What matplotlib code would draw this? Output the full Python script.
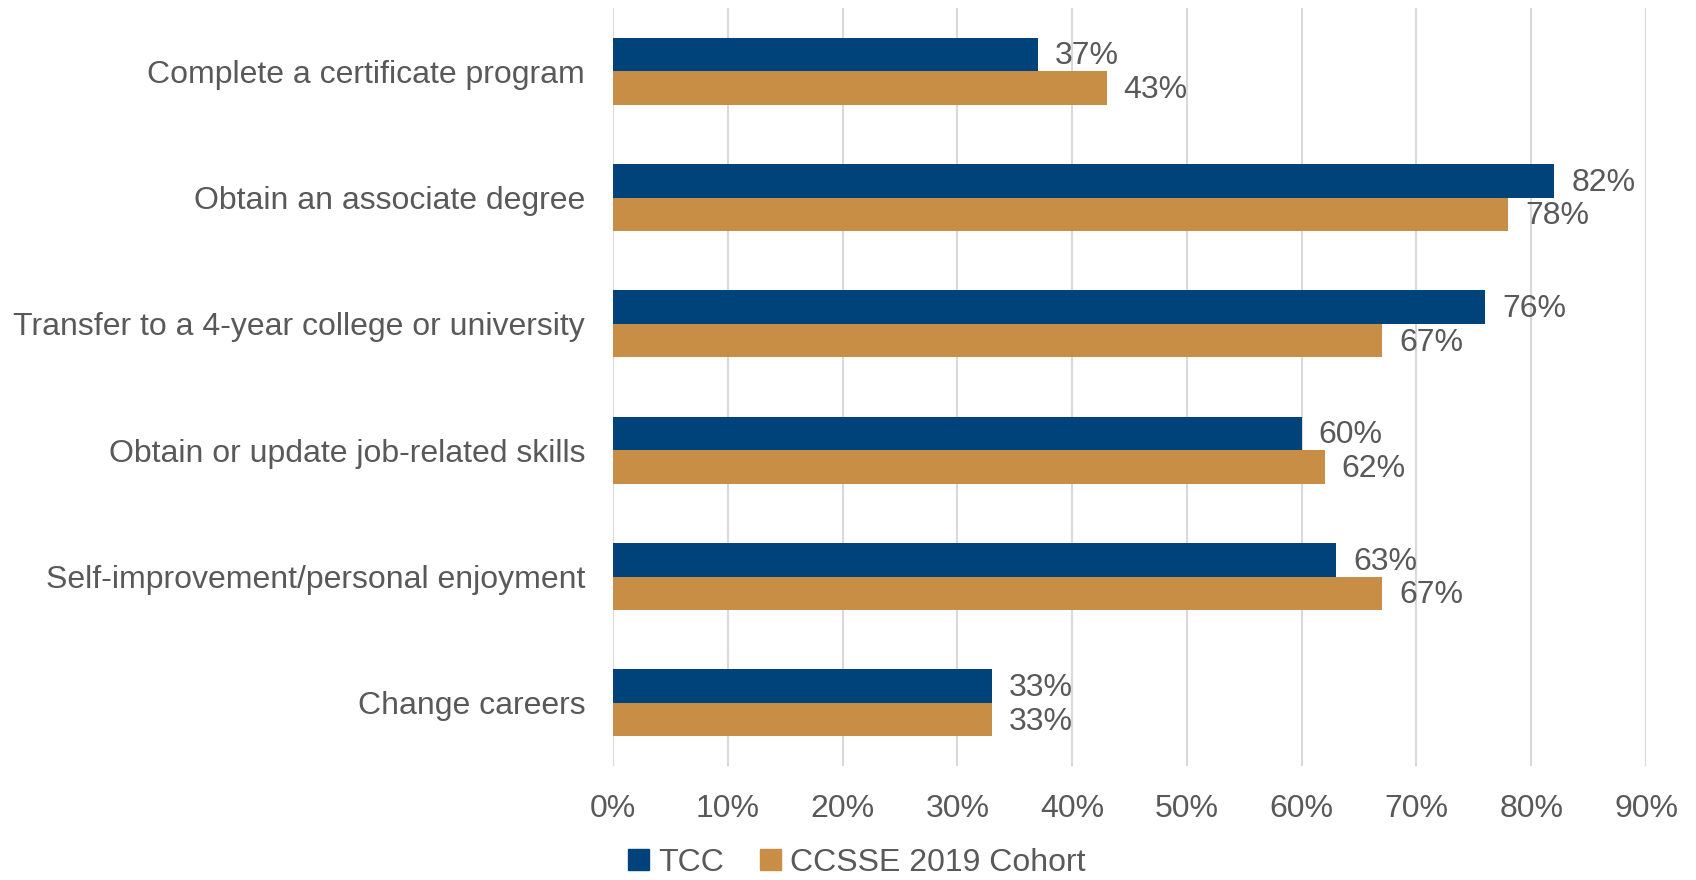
import matplotlib
matplotlib.use("Agg")
import matplotlib.pyplot as plt
import numpy as np
from matplotlib.patches import Patch

categories = [
    "Complete a certificate program",
    "Obtain an associate degree",
    "Transfer to a 4-year college or university",
    "Obtain or update job-related skills",
    "Self-improvement/personal enjoyment",
    "Change careers",
]
tcc = [37, 82, 76, 60, 63, 33]
ccsse = [43, 78, 67, 62, 67, 33]
series_names = ["TCC", "CCSSE 2019 Cohort"]
xticks = [0, 10, 20, 30, 40, 50, 60, 70, 80, 90]

navy = "#00427A"
gold = "#C88E45"
text_c = "#595959"
grid_c = "#D9D9D9"

plt.rcParams["font.family"] = ["Liberation Sans", "DejaVu Sans"]

W, H = 1696, 880
fs = 23
fig = plt.figure(figsize=(W / 100, H / 100), dpi=100)
left, right = 613, 1646
top, bottom = 8, 766
ax = fig.add_axes([left / W, 1 - bottom / H, (right - left) / W, (bottom - top) / H])

n = len(categories)
y = np.arange(n)
bh = 0.265
ax.barh(y - bh / 2, tcc, height=bh, color=navy, zorder=3)
ax.barh(y + bh / 2, ccsse, height=bh, color=gold, zorder=3)

for i in range(n):
    ax.annotate(f"{tcc[i]}%", (tcc[i], y[i] - bh / 2), xytext=(17, -2), textcoords="offset pixels",
                va="center", ha="left", fontsize=fs, color=text_c)
    ax.annotate(f"{ccsse[i]}%", (ccsse[i], y[i] + bh / 2), xytext=(17, -2), textcoords="offset pixels",
                va="center", ha="left", fontsize=fs, color=text_c)

ax.set_ylim(n - 0.5, -0.5)
ax.set_xlim(0, 90)
ax.set_yticks(y)
ax.set_yticklabels(categories, fontsize=fs, color=text_c)
ax.set_xticks(xticks)
ax.set_xticklabels([f"{v}%" for v in xticks], fontsize=fs, color=text_c)
ax.tick_params(axis="y", length=0, pad=20)
ax.tick_params(axis="x", length=0, pad=20)
ax.grid(axis="x", color=grid_c, linewidth=1.5, zorder=0)
for s in ax.spines.values():
    s.set_visible(False)

handles = [Patch(color=navy), Patch(color=gold)]
fig.legend(handles, series_names, loc="center", bbox_to_anchor=(857 / W, 1 - 863 / H), ncol=2,
           frameon=False, fontsize=fs, labelcolor=text_c, handlelength=0.65, handleheight=0.65,
           handletextpad=0.3, columnspacing=1.1, borderpad=0.2)

fig.savefig("out.png", dpi=100)
